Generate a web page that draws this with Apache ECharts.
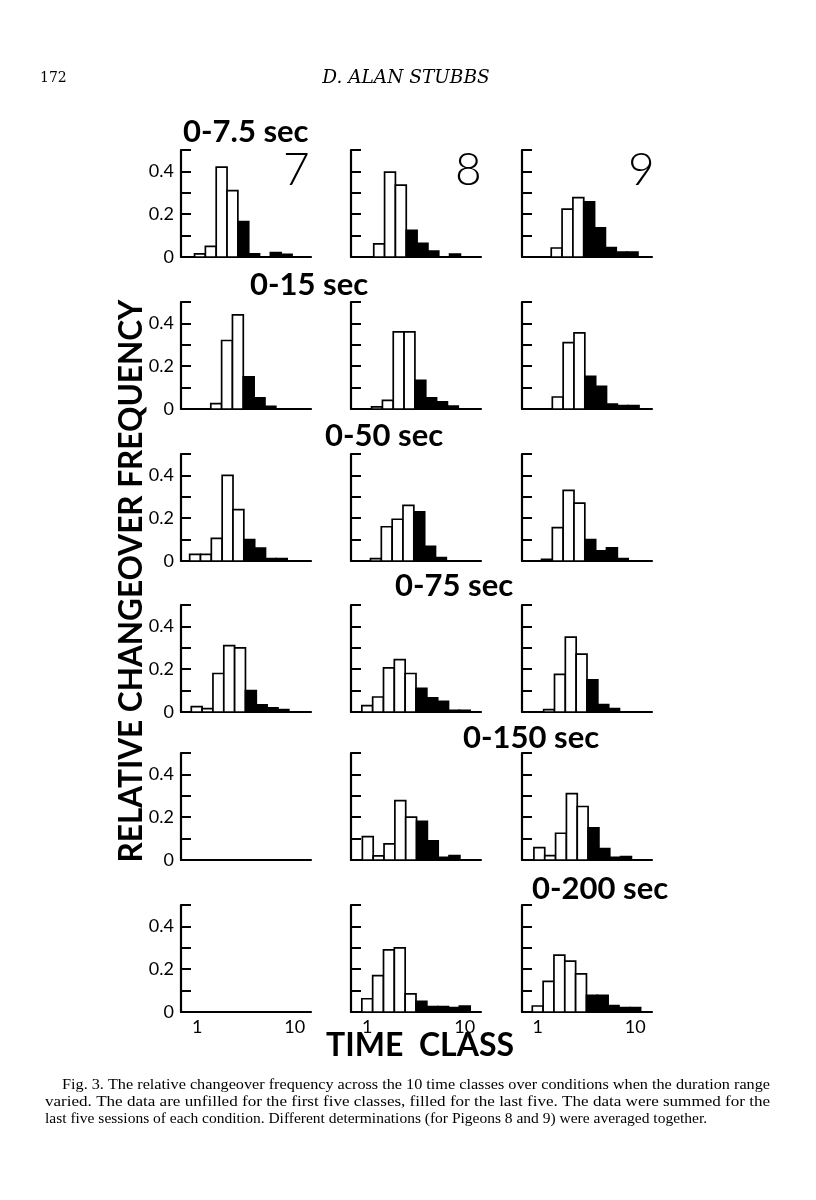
<!DOCTYPE html>
<html>
<head>
<meta charset="utf-8">
<script src="https://cdn.jsdelivr.net/npm/echarts@6/dist/echarts.min.js"></script>
<style>
html,body{margin:0;padding:0;background:#fff;}
#chart{width:816px;height:1200px;}
</style>
</head>
<body>
<div id="chart"></div>
<script>
// ---------- data ----------
const classes = [1, 2, 3, 4, 5, 6, 7, 8, 9, 10];
const conditions = ['0-7.5 sec', '0-15 sec', '0-50 sec', '0-75 sec', '0-150 sec', '0-200 sec'];
const pigeons = ['7', '8', '9'];
const yTickValues = [0, 0.2, 0.4];
const yTickLabels = ['0', '0.2', '0.4'];
const xTickClasses = [1, 10];
const xTickLabels = ['1', '10'];

// relative changeover frequency per time class (classes 1..10)
const p7_7_5 = [0, 0.015, 0.05, 0.42, 0.31, 0.165, 0.015, 0, 0.02, 0.012];
const p8_7_5 = [0, 0, 0.061, 0.397, 0.336, 0.125, 0.064, 0.027, 0, 0.014];
const p9_7_5 = [0, 0, 0.042, 0.224, 0.277, 0.258, 0.136, 0.044, 0.023, 0.023];

const p7_15 = [0, 0, 0.025, 0.32, 0.44, 0.15, 0.052, 0.012, 0, 0];
const p8_15 = [0, 0.01, 0.04, 0.36, 0.36, 0.134, 0.052, 0.033, 0.013, 0];
const p9_15 = [0, 0, 0.056, 0.31, 0.356, 0.153, 0.106, 0.023, 0.016, 0.016];

const p7_50 = [0.031, 0.031, 0.106, 0.40, 0.24, 0.10, 0.06, 0.011, 0.011, 0];
const p8_50 = [0, 0.011, 0.16, 0.195, 0.26, 0.23, 0.069, 0.016, 0, 0];
const p9_50 = [0, 0.008, 0.156, 0.33, 0.27, 0.10, 0.047, 0.062, 0.011, 0];

const p7_75 = [0.025, 0.016, 0.18, 0.31, 0.30, 0.10, 0.033, 0.019, 0.011, 0];
const p8_75 = [0.03, 0.07, 0.206, 0.245, 0.18, 0.11, 0.066, 0.05, 0.008, 0.008];
const p9_75 = [0, 0.011, 0.176, 0.35, 0.27, 0.15, 0.034, 0.016, 0, 0];

const p7_150 = null;
const p8_150 = [0.109, 0.019, 0.075, 0.277, 0.20, 0.181, 0.09, 0.0125, 0.02, 0];
const p9_150 = [0.058, 0.02, 0.125, 0.31, 0.25, 0.15, 0.053, 0.0125, 0.016, 0];

const p7_200 = null;
const p8_200 = [0.062, 0.17, 0.29, 0.30, 0.085, 0.05, 0.025, 0.025, 0.02, 0.028];
const p9_200 = [0.028, 0.143, 0.266, 0.238, 0.178, 0.078, 0.078, 0.03, 0.02, 0.02];

const panelData = [
  [p7_7_5, p8_7_5, p9_7_5],
  [p7_15, p8_15, p9_15],
  [p7_50, p8_50, p9_50],
  [p7_75, p8_75, p9_75],
  [p7_150, p8_150, p9_150],
  [p7_200, p8_200, p9_200]
];

// ---------- layout (not data) ----------
const colX = [181, 351, 522];
const rowBase = [257, 409, 561, 712, 860, 1012];
const plotH = 107, plotW = 130;
// where class 1 starts, in class widths from the y axis (hand drawn figure)
const classStart = [
  [0.25, 0.1, 0.7],
  [0.75, 0.9, 0.8],
  [0.8, 0.8, 0.8],
  [0.95, 1.0, 1.0],
  [1.0, 1.05, 1.1],
  [1.0, 1.0, 0.95]
];
const titlePos = [[183, 134], [250, 287], [325, 438], [395, 588], [463, 740], [532, 891]];
const pigeonPos = [[283, 172], [455, 172], [628, 172]];

const FONT = 'Lato, "Open Sans", sans-serif';
const SERIF = '"DejaVu Serif", "Liberation Serif", serif';
const CAPFONT = '15.5px "Liberation Serif", serif';

const option = {
  animation: false,
  backgroundColor: '#fff',
  grid: [], xAxis: [], yAxis: [], series: [], graphic: []
};

let gi = 0;
for (let r = 0; r < 6; r++) {
  for (let c = 0; c < 3; c++) {
    const off = classStart[r][c];
    option.grid.push({
      left: colX[c], top: rowBase[r] - plotH, width: plotW, height: plotH,
      containLabel: false
    });
    const bottomRow = (r === 5);
    option.xAxis.push({
      gridIndex: gi, type: 'value', min: 0, max: 12,
      axisLine: { show: true, onZero: false, lineStyle: { color: '#000', width: 2.2 } },
      axisTick: { show: false },
      splitLine: { show: false },
      axisLabel: bottomRow ? {
        show: true,
        customValues: xTickClasses.map(k => off + k - 0.5),
        formatter: function (v) {
          const k = Math.round(v - off + 0.5);
          const idx = xTickClasses.indexOf(k);
          return idx >= 0 ? xTickLabels[idx] : '';
        },
        color: '#000', fontSize: 18, fontFamily: FONT, margin: 6
      } : { show: false }
    });
    option.yAxis.push({
      gridIndex: gi, type: 'value', min: 0, max: 0.5, interval: 0.1,
      axisLine: { show: true, lineStyle: { color: '#000', width: 2.2 } },
      axisTick: { show: true, inside: true, length: 10, lineStyle: { color: '#000', width: 2 } },
      splitLine: { show: false },
      axisLabel: c === 0 ? {
        show: true,
        formatter: function (v) {
          for (let i = 0; i < yTickValues.length; i++) {
            if (Math.abs(v - yTickValues[i]) < 1e-6) return yTickLabels[i];
          }
          return '';
        },
        color: '#000', fontSize: 18, fontFamily: FONT, margin: 7
      } : { show: false }
    });
    const vals = panelData[r][c];
    if (vals) {
      option.series.push({
        type: 'custom',
        xAxisIndex: gi, yAxisIndex: gi,
        silent: true, clip: false,
        data: classes.map((k, i) => [k, vals[i]]),
        renderItem: function (params, api) {
          const k = api.value(0), v = api.value(1);
          if (!(v > 0)) return null;
          const p0 = api.coord([off + k - 1, v]);
          const p1 = api.coord([off + k, 0]);
          return {
            type: 'rect',
            shape: { x: p0[0], y: p0[1], width: p1[0] - p0[0], height: p1[1] - p0[1] },
            style: { fill: k > 5 ? '#000' : '#fff', stroke: '#000', lineWidth: 1.7 }
          };
        }
      });
    }
    gi++;
  }
}

// texts
conditions.forEach((t, i) => {
  option.graphic.push({
    type: 'text', left: titlePos[i][0], top: titlePos[i][1] - 18,
    style: { text: t, font: 'bold 31px ' + FONT, fill: '#000' }
  });
});
pigeons.forEach((p, i) => {
  option.graphic.push({
    type: 'text', left: pigeonPos[i][0], top: pigeonPos[i][1] - 25,
    style: { text: p, font: '300 46px ' + FONT, fill: '#000' }
  });
});
option.graphic.push({
  type: 'text', x: 132, y: 581, rotation: Math.PI / 2,
  style: { text: 'RELATIVE CHANGEOVER FREQUENCY', font: 'bold 31.5px ' + FONT, fill: '#000',
           align: 'center', verticalAlign: 'middle' }
});
option.graphic.push({
  type: 'text', x: 420, y: 1046,
  style: { text: 'TIME  CLASS', font: 'bold 32px ' + FONT, fill: '#000', align: 'center', verticalAlign: 'middle' }
});
option.graphic.push({
  type: 'text', x: 40, y: 78,
  style: { text: '172', font: '14px ' + SERIF, fill: '#000', verticalAlign: 'middle' }
});
option.graphic.push({
  type: 'text', x: 406, y: 78,
  style: { text: 'D. ALAN STUBBS', font: 'italic 18.5px ' + SERIF, fill: '#000', align: 'center', verticalAlign: 'middle' }
});

// caption, lines 1-2 justified by a horizontal scale to the column width
const captionLines = [
  'Fig. 3. The relative changeover frequency across the 10 time classes over conditions when the duration range',
  'varied. The data are unfilled for the first five classes, filled for the last five. The data were summed for the',
  'last five sessions of each condition. Different determinations (for Pigeons 8 and 9) were averaged together.'
];
const capX = [62, 45, 45], capY = [1085, 1102, 1119], capRight = [770, 770, null];
const mctx = document.createElement('canvas').getContext('2d');
mctx.font = CAPFONT;
captionLines.forEach((l, i) => {
  const w = mctx.measureText(l).width;
  const sx = capRight[i] ? (capRight[i] - capX[i]) / w : 1;
  option.graphic.push({
    type: 'text', x: capX[i], y: capY[i], scaleX: sx,
    style: { text: l, font: CAPFONT, fill: '#000', verticalAlign: 'middle' }
  });
});

const chart = echarts.init(document.getElementById('chart'), null, { renderer: 'canvas' });
chart.setOption(option);
</script>
</body>
</html>
